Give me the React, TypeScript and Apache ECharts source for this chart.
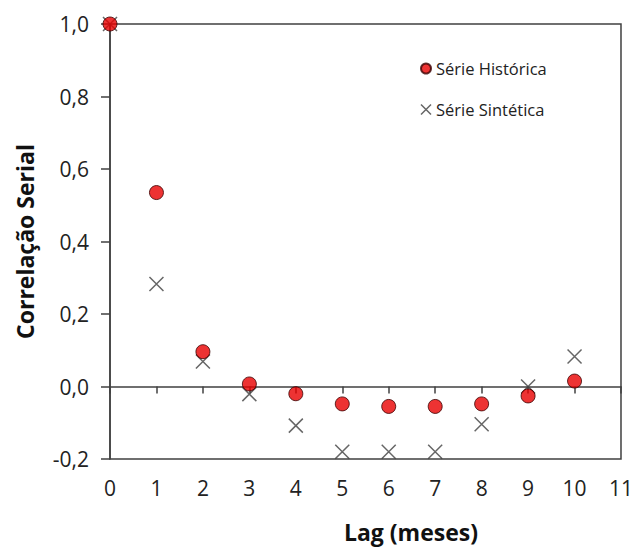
import React, { useEffect, useRef } from "react";
import * as echarts from "echarts";

const lags = [0, 1, 2, 3, 4, 5, 6, 7, 8, 9, 10];
const historica = [1.0, 0.535, 0.096, 0.007, -0.02, -0.048, -0.055, -0.055, -0.048, -0.026, 0.015];
const sintetica = [1.0, 0.283, 0.069, -0.021, -0.108, -0.18, -0.18, -0.18, -0.104, 0.0, 0.083];
const seriesNames = ["Série Histórica", "Série Sintética"];
const axisTitles = { x: "Lag (meses)", y: "Correlação Serial" };

const CROSS = "path://M0,0L10,10M10,0L0,10";
const FONT = "'Open Sans', sans-serif";
const DARK = "#404040";

export default function App() {
  const ref = useRef<HTMLDivElement>(null);
  useEffect(() => {
    if (!ref.current) return;
    const chart = echarts.init(ref.current, undefined, { renderer: "svg" });
    chart.setOption({
      animation: false,
      backgroundColor: "#ffffff",
      grid: {
        left: 110,
        top: 24,
        right: 15,
        bottom: 90,
        show: true,
        borderColor: DARK,
        borderWidth: 1.5,
        backgroundColor: "transparent",
      },
      graphic: [
        {
          type: "text",
          x: 411,
          y: 532,
          style: {
            text: axisTitles.x,
            fontFamily: FONT,
            fontSize: 23,
            fontWeight: "bold",
            fill: "#111",
            align: "center",
            verticalAlign: "middle",
          },
        },
      ],
      legend: {
        orient: "vertical",
        left: 420,
        top: 59,
        padding: 0,
        itemWidth: 10,
        itemHeight: 10,
        itemGap: 22,
        textStyle: { fontFamily: FONT, fontSize: 16.5, color: "#222", lineHeight: 19 },
        data: [
          { name: seriesNames[0], icon: "circle" },
          {
            name: seriesNames[1],
            icon: CROSS,
            itemStyle: { color: "transparent", borderColor: DARK, borderWidth: 1.5 },
          },
        ],
      },
      xAxis: {
        type: "value",
        min: 0,
        max: 11,
        interval: 1,
        axisLine: { show: true, lineStyle: { color: DARK, width: 1.5 } },
        axisTick: { show: true, inside: false, length: 7, lineStyle: { color: DARK, width: 1.5 } },
        axisLabel: { fontFamily: FONT, fontSize: 21, color: "#222", margin: 18 },
        splitLine: { show: false },
      },
      yAxis: {
        type: "value",
        min: -0.2,
        max: 1.0,
        interval: 0.2,
        name: axisTitles.y,
        nameLocation: "middle",
        nameGap: 74,
        nameRotate: 90,
        nameTextStyle: { fontFamily: FONT, fontSize: 23, fontWeight: "bold", color: "#111" },
        axisLine: { show: true, lineStyle: { color: DARK, width: 1.5 } },
        axisTick: { show: true, inside: false, length: 9, lineStyle: { color: DARK, width: 1.5 } },
        axisLabel: {
          fontFamily: FONT,
          fontSize: 21,
          color: "#222",
          margin: 21,
          formatter: (v: number) => v.toFixed(1).replace(".", ","),
        },
        splitLine: { show: false },
      },
      series: [
        {
          name: seriesNames[1],
          type: "scatter",
          symbol: CROSS,
          symbolSize: 14,
          data: lags.map((l, i) => [l, sintetica[i]]),
          itemStyle: { color: "transparent", borderColor: DARK, borderWidth: 1.5 },
          z: 2,
        },
        {
          name: seriesNames[0],
          type: "scatter",
          symbol: "circle",
          symbolSize: 14,
          data: lags.map((l, i) => [l, historica[i]]),
          itemStyle: { color: "#e80000", borderColor: "#3a0000", borderWidth: 1 },
          z: 3,
        },
      ],
    });
    return () => chart.dispose();
  }, []);
  return (
    <div
      ref={ref}
      style={{ position: "absolute", left: 0, top: 0, width: 636, height: 549 }}
    />
  );
}
